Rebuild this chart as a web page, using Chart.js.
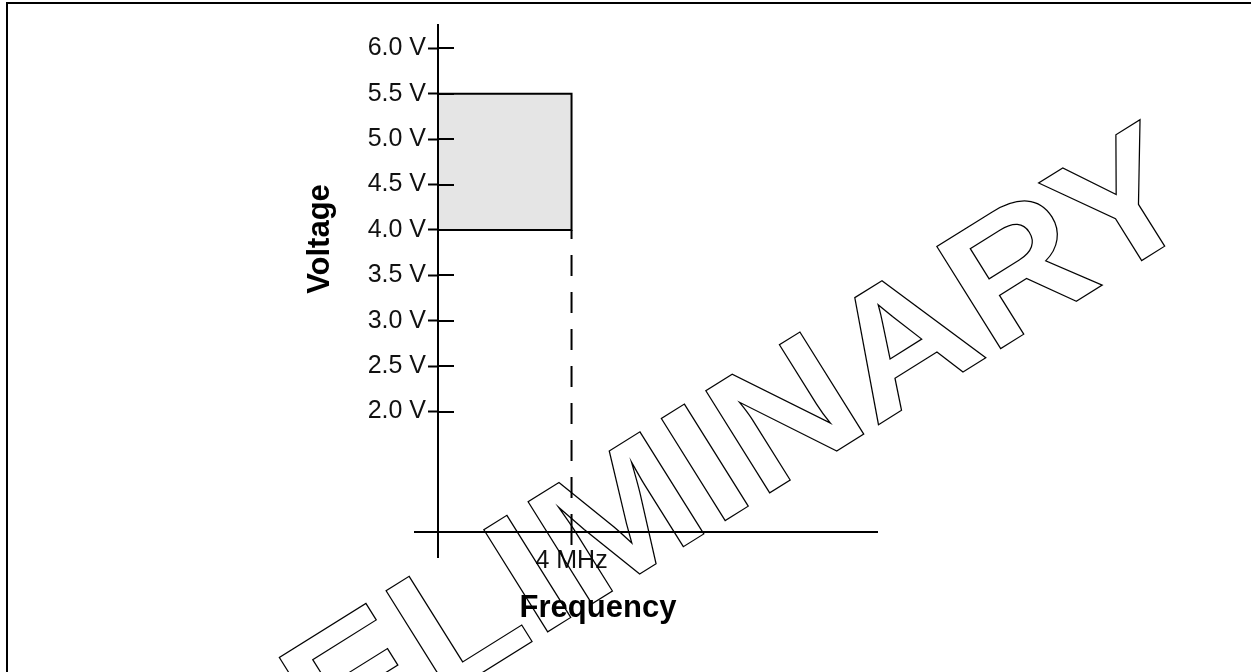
<!DOCTYPE html>
<html>
<head>
<meta charset="utf-8">
<title>Voltage vs Frequency</title>
<script src="https://cdn.jsdelivr.net/npm/chart.js@4/dist/chart.umd.min.js"></script>
<style>
  html, body { margin: 0; padding: 0; background: #fff; }
  canvas { display: block; }
</style>
</head>
<body>
<canvas id="vfChart" width="1251" height="672"></canvas>
<script>
const voltTicks = [2.0, 2.5, 3.0, 3.5, 4.0, 4.5, 5.0, 5.5, 6.0];
const voltTickLabels = ['2.0 V', '2.5 V', '3.0 V', '3.5 V', '4.0 V', '4.5 V', '5.0 V', '5.5 V', '6.0 V'];
const freqTicks = [4];
const freqTickLabels = ['4 MHz'];

// operating region: 0..4 MHz, 4.0..5.5 V
const regionFreq = [0, 4];
const regionVolt = [4.0, 5.5];

// the frequency axis crosses the voltage axis below 1 V (no 0 V tick)
const voltRange = [0.3976, 6.2566];
const freqRange = [0, 13.15];
const freqAxisAt = 0.676;

const FONT = "'Liberation Sans', Arial, sans-serif";

const regionPoints = [
  { x: regionFreq[0], y: regionVolt[0] },
  { x: regionFreq[0], y: regionVolt[1] },
  { x: regionFreq[1], y: regionVolt[1] },
  { x: regionFreq[1], y: regionVolt[0] },
  { x: regionFreq[0], y: regionVolt[0] }
];
const dashPoints = [
  { x: regionFreq[1], y: regionVolt[0] },
  { x: regionFreq[1], y: freqAxisAt }
];

const sheetDecor = {
  id: 'sheetDecor',
  afterDatasetsDraw(chart) {
    const { ctx, scales: { x, y } } = chart;
    const x0 = x.getPixelForValue(0);
    ctx.save();
    ctx.strokeStyle = '#000';
    ctx.lineWidth = 2;
    ctx.beginPath();
    // inner half of the voltage ticks
    voltTicks.forEach(v => {
      const py = Math.round(y.getPixelForValue(v));
      ctx.moveTo(x0, py);
      ctx.lineTo(x0 + 16, py);
    });
    // frequency axis sticks out a bit left of the voltage axis
    const pa = Math.round(y.getPixelForValue(freqAxisAt));
    ctx.moveTo(x0 - 24, pa);
    ctx.lineTo(x0, pa);
    ctx.stroke();
    ctx.restore();
  },
  afterDraw(chart) {
    const ctx = chart.ctx;
    ctx.save();

    // page frame (only top and left edges are in view)
    ctx.strokeStyle = '#000';
    ctx.lineWidth = 2;
    ctx.beginPath();
    ctx.moveTo(7, 672);
    ctx.lineTo(7, 3);
    ctx.lineTo(1251, 3);
    ctx.stroke();

    // axis titles
    ctx.fillStyle = '#000';
    ctx.font = 'bold 31px ' + FONT;
    ctx.textAlign = 'center';
    ctx.textBaseline = 'alphabetic';
    ctx.fillText('Frequency', 598, 617);
    ctx.save();
    ctx.translate(329, 239);
    ctx.rotate(-Math.PI / 2);
    ctx.fillText('Voltage', 0, 0);
    ctx.restore();

    // outlined watermark
    ctx.save();
    ctx.translate(110.2, 905);
    ctx.rotate(-32 * Math.PI / 180);
    ctx.scale(1.078, 1);
    ctx.font = 'bold 175px ' + FONT;
    ctx.textAlign = 'left';
    ctx.lineWidth = 1.2;
    ctx.strokeStyle = '#000';
    ctx.strokeText('PRELIMINARY', 0, 0);
    ctx.restore();

    ctx.restore();
  }
};

const ctx = document.getElementById('vfChart').getContext('2d');

new Chart(ctx, {
  type: 'scatter',
  data: {
    datasets: [
      {
        data: regionPoints,
        showLine: true,
        fill: 'shape',
        backgroundColor: '#e5e5e5',
        borderColor: '#000',
        borderWidth: 2,
        pointRadius: 0,
        tension: 0,
        clip: false
      },
      {
        data: dashPoints,
        showLine: true,
        fill: false,
        borderColor: '#000',
        borderWidth: 2,
        borderDash: [21, 16],
        borderDashOffset: 12,
        pointRadius: 0,
        clip: false
      }
    ]
  },
  options: {
    responsive: false,
    animation: false,
    events: [],
    layout: { padding: { left: 338, top: 25, right: 374, bottom: 115 } },
    plugins: {
      legend: { display: false },
      tooltip: { enabled: false }
    },
    scales: {
      x: {
        type: 'linear',
        position: { y: freqAxisAt },
        min: freqRange[0],
        max: freqRange[1],
        afterBuildTicks: s => { s.ticks = freqTicks.map(v => ({ value: v })); },
        grid: { drawOnChartArea: false, tickLength: 12, tickWidth: 2, tickColor: '#000' },
        border: { color: '#000', width: 2 },
        ticks: {
          callback: (v, i) => freqTickLabels[i],
          font: { family: FONT, size: 25 },
          color: '#111',
          padding: 2,
          maxRotation: 0,
          autoSkip: false
        }
      },
      y: {
        type: 'linear',
        position: 'left',
        min: voltRange[0],
        max: voltRange[1],
        afterBuildTicks: s => { s.ticks = voltTicks.map(v => ({ value: v })); },
        afterFit: s => { s.width = 100; },
        grid: { drawOnChartArea: false, tickLength: 10, tickWidth: 2, tickColor: '#000' },
        border: { color: '#000', width: 2 },
        ticks: {
          callback: (v, i) => voltTickLabels[i],
          font: { family: FONT, size: 25 },
          color: '#111',
          padding: 2,
          autoSkip: false
        }
      }
    }
  },
  plugins: [sheetDecor]
});
</script>
</body>
</html>
